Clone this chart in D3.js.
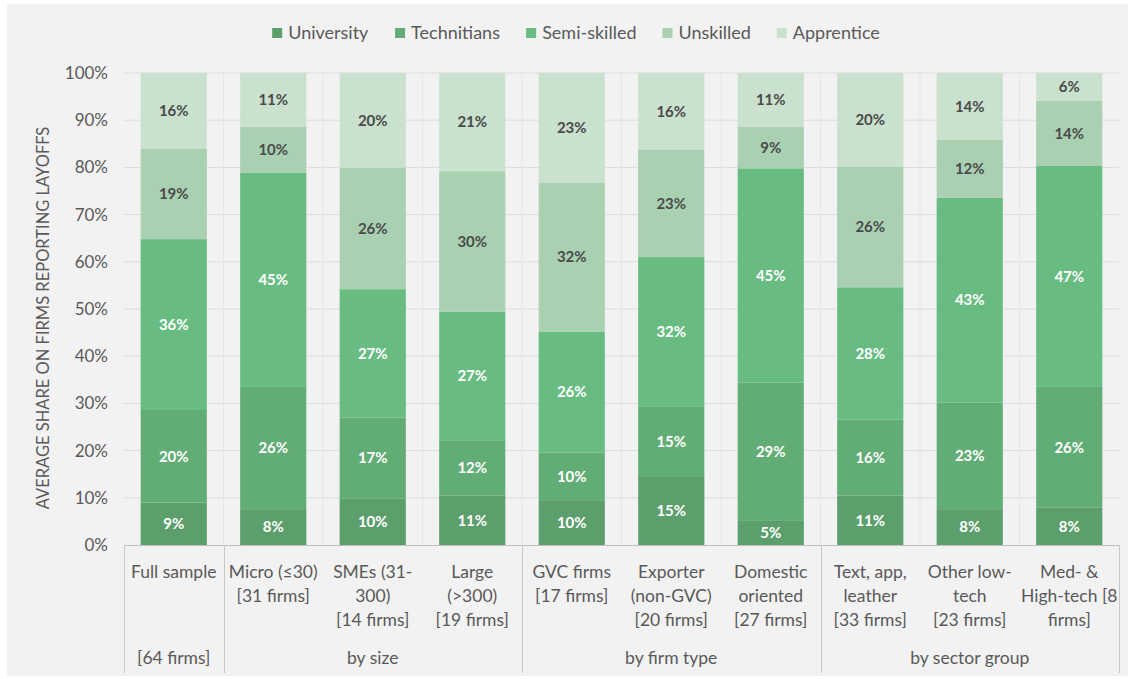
<!DOCTYPE html>
<html>
<head>
<meta charset="utf-8">
<script src="https://cdn.jsdelivr.net/npm/d3@7"></script>
<style>
  html, body { margin: 0; padding: 0; background: #ffffff; }
  svg { display: block; }
</style>
</head>
<body>
<svg id="chart" width="1134" height="679"></svg>
<script>
// ---------- DATA ----------
const categories = ["full", "micro", "smes", "large", "gvc", "exporter", "domestic", "text", "otherlow", "medhigh"];
const categoryLines = [
  ["Full sample"],
  ["Micro (≤30)", "[31 firms]"],
  ["SMEs (31-", "300)", "[14 firms]"],
  ["Large", "(>300)", "[19 firms]"],
  ["GVC firms", "[17 firms]"],
  ["Exporter", "(non-GVC)", "[20 firms]"],
  ["Domestic", "oriented", "[27 firms]"],
  ["Text, app,", "leather", "[33 firms]"],
  ["Other low-", "tech", "[23 firms]"],
  ["Med- &", "High-tech [8", "firms]"]
];
const groupLabels = ["[64 firms]", "by size", "by firm type", "by sector group"];
const groupSpans = [1, 3, 3, 3];

const seriesNames = ["University", "Technitians", "Semi-skilled", "Unskilled", "Apprentice"];
const university  = [9.0, 7.6, 9.9, 10.5, 9.5, 14.6, 5.1, 10.5, 7.6, 7.9];
const technitians = [19.6, 25.9, 17.1, 11.7, 10.1, 14.8, 29.3, 16.1, 22.6, 25.6];
const semiSkilled = [36.2, 45.4, 27.2, 27.2, 25.6, 31.6, 45.4, 28.0, 43.4, 46.8];
const unskilled   = [19.1, 9.7, 25.7, 29.8, 31.6, 22.8, 8.8, 25.6, 12.2, 13.8];
const apprentice  = [16.1, 11.4, 20.1, 20.8, 23.2, 16.2, 11.4, 19.8, 14.2, 5.9];
const yTicks = [0, 10, 20, 30, 40, 50, 60, 70, 80, 90, 100];

// ---------- STYLE ----------
const colors = ["#5c9f6d", "#62ad75", "#68bc82", "#a8d0b1", "#c9e1cd"];
const labelColors = ["#ffffff", "#ffffff", "#ffffff", "#4a4a4a", "#4a4a4a"];
const font = "Lato, 'Open Sans', sans-serif";
const textGray = "#595959";

const svg = d3.select("#chart");
svg.append("rect").attr("x", 7).attr("y", 4).attr("width", 1121).attr("height", 672).attr("fill", "#f2f2f2");

const margin = {left: 124, right: 1119, top: 73, bottom: 545};

const table = categories.map((c, i) => ({
  cat: c,
  University: university[i],
  Technitians: technitians[i],
  "Semi-skilled": semiSkilled[i],
  Unskilled: unskilled[i],
  Apprentice: apprentice[i]
}));

const x = d3.scaleBand().domain(categories).range([margin.left, margin.right]).paddingInner(0.335).paddingOuter(0.1675);
const xStep = d3.scaleBand().domain(categories).range([margin.left, margin.right]).padding(0);
const y = d3.scaleLinear().domain([0, 100]).range([margin.bottom, margin.top]);

// horizontal gridlines
svg.append("g").selectAll("line").data(yTicks.slice(1)).join("line")
  .attr("x1", margin.left).attr("x2", margin.right)
  .attr("y1", d => y(d)).attr("y2", d => y(d))
  .attr("stroke", "#dcdcdc").attr("stroke-width", 1);

// faint vertical gridlines at category boundaries
svg.append("g").selectAll("line").data(categories.slice(1)).join("line")
  .attr("x1", d => xStep(d)).attr("x2", d => xStep(d))
  .attr("y1", margin.top).attr("y2", margin.bottom)
  .attr("stroke", "#e6e6e6").attr("stroke-width", 1);

// y axis labels
const yAxis = d3.axisLeft(y).tickValues(yTicks).tickFormat(d => d + "%").tickSize(0).tickPadding(16);
const yg = svg.append("g").attr("transform", `translate(${margin.left},0)`).call(yAxis);
yg.select(".domain").remove();
yg.selectAll("text").attr("font-family", font).attr("font-size", 17).attr("fill", textGray);

// y title
svg.append("text")
  .attr("transform", `translate(49,${(margin.top + margin.bottom) / 2 + 9}) rotate(-90)`)
  .attr("text-anchor", "middle")
  .attr("font-family", font).attr("font-size", 16.5).attr("fill", textGray)
  .text("AVERAGE SHARE ON FIRMS REPORTING LAYOFFS");

// stacked bars
const stack = d3.stack().keys(seriesNames);
const stacked = stack(table);

const layers = svg.append("g").selectAll("g").data(stacked).join("g")
  .attr("fill", (d, i) => colors[i]);
layers.selectAll("rect").data(d => d).join("rect")
  .attr("x", d => x(d.data.cat))
  .attr("width", x.bandwidth())
  .attr("y", d => y(d[1]))
  .attr("height", d => y(d[0]) - y(d[1]));

// data labels
const labelLayers = svg.append("g").selectAll("g").data(stacked).join("g")
  .attr("fill", (d, i) => labelColors[i]);
labelLayers.selectAll("text").data(d => d).join("text")
  .attr("x", d => x(d.data.cat) + x.bandwidth() / 2)
  .attr("y", d => (y(d[0]) + y(d[1])) / 2)
  .attr("dy", "0.36em")
  .attr("text-anchor", "middle")
  .attr("font-family", font).attr("font-size", 15).attr("font-weight", "bold")
  .text(d => Math.round(d[1] - d[0]) + "%");

// x axis baseline
svg.append("line").attr("x1", margin.left).attr("x2", margin.right)
  .attr("y1", margin.bottom + 0.5).attr("y2", margin.bottom + 0.5)
  .attr("stroke", "#bfbfbf").attr("stroke-width", 1);

// group separators
let acc = 0;
const bounds = [0];
groupSpans.forEach(s => { acc += s; bounds.push(acc); });
const boundX = i => i < categories.length ? xStep(categories[i]) : margin.right;
svg.append("g").selectAll("line").data(bounds).join("line")
  .attr("x1", d => Math.round(boundX(d)) + 0.5).attr("x2", d => Math.round(boundX(d)) + 0.5)
  .attr("y1", margin.bottom).attr("y2", 673)
  .attr("stroke", "#c8c8c8").attr("stroke-width", 1);

// category labels
const catG = svg.append("g").selectAll("text").data(categories).join("text")
  .attr("text-anchor", "middle")
  .attr("font-family", font).attr("font-size", 17.5).attr("fill", textGray)
  .attr("transform", d => `translate(${xStep(d) + xStep.bandwidth() / 2},578)`);
catG.selectAll("tspan").data((d, i) => categoryLines[i]).join("tspan")
  .attr("x", 0).attr("y", (d, i) => i * 24)
  .text(d => d);

// group labels
svg.append("g").selectAll("text").data(groupLabels).join("text")
  .attr("x", (d, i) => (boundX(bounds[i]) + boundX(bounds[i + 1])) / 2)
  .attr("y", 664)
  .attr("text-anchor", "middle")
  .attr("font-family", font).attr("font-size", 17.5).attr("fill", textGray)
  .text(d => d);

// legend
const legend = svg.append("g");
const items = legend.selectAll("g").data(seriesNames).join("g");
items.append("rect").attr("width", 10).attr("height", 10).attr("y", -5)
  .attr("fill", (d, i) => colors[i]);
items.append("text").attr("x", 16).attr("dy", "0.35em")
  .attr("font-family", font).attr("font-size", 18).attr("fill", textGray)
  .text(d => d);
let lx = 0;
const widths = [];
items.each(function() { widths.push(this.getBBox().width); });
const totalW = d3.sum(widths) + 26 * (widths.length - 1);
lx = 576 - totalW / 2;
items.attr("transform", (d, i) => {
  const t = `translate(${lx},33)`;
  lx += widths[i] + 26;
  return t;
});
</script>
</body>
</html>
